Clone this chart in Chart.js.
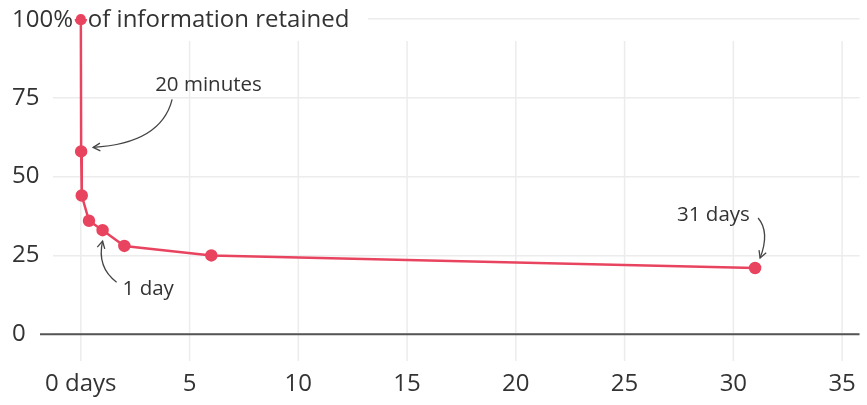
<!DOCTYPE html>
<html>
<head>
<meta charset="utf-8">
<script src="https://cdn.jsdelivr.net/npm/chart.js@4"></script>
<style>
  html, body { margin: 0; padding: 0; background: #fff; }
  #wrap { width: 867px; height: 405px; }
</style>
</head>
<body>
<div id="wrap"><canvas id="curve"></canvas></div>
<script>
// forgetting curve data (days since learning, % retained)
const days = [0, 0.014, 0.042, 0.375, 1, 2, 6, 31];
const retained = [100, 58, 44, 36, 33, 28, 25, 21];
const xTicks = [0, 5, 10, 15, 20, 25, 30, 35];
const yTicks = [0, 25, 50, 75, 100];

const FONT = '"Open Sans", Lato, sans-serif';
const INK = '#333';
const RED = '#e9445f';

// annotation labels: which point they refer to
const notes = [
  { text: '20 minutes', idx: 1 },
  { text: '1 day', idx: 4 },
  { text: '31 days', idx: 7 }
];

function arrow(ctx, x0, y0, cx, cy, x1, y1) {
  ctx.beginPath();
  ctx.moveTo(x0, y0);
  ctx.quadraticCurveTo(cx, cy, x1, y1);
  ctx.stroke();
  const a = Math.atan2(y1 - cy, x1 - cx);
  ctx.beginPath();
  ctx.moveTo(x1 - 8 * Math.cos(a - 0.5), y1 - 8 * Math.sin(a - 0.5));
  ctx.lineTo(x1, y1);
  ctx.lineTo(x1 - 8 * Math.cos(a + 0.5), y1 - 8 * Math.sin(a + 0.5));
  ctx.stroke();
}

const extras = {
  id: 'extras',
  beforeDatasetsDraw(chart) {
    const { ctx, scales: { x, y }, chartArea } = chart;
    ctx.save();
    // vertical grid lines
    ctx.strokeStyle = '#ececec';
    ctx.lineWidth = 1.5;
    xTicks.forEach(t => {
      const px = x.getPixelForValue(t);
      ctx.beginPath();
      ctx.moveTo(px, y.getPixelForValue(93));
      ctx.lineTo(px, chartArea.bottom);
      ctx.stroke();
    });
    // baseline at 0
    ctx.strokeStyle = '#555';
    ctx.lineWidth = 2;
    const by = y.getPixelForValue(0);
    ctx.beginPath();
    ctx.moveTo(chartArea.left - 13, by);
    ctx.lineTo(chartArea.right, by);
    ctx.stroke();
    // white strip behind the top label and title
    const ty = y.getPixelForValue(100);
    ctx.fillStyle = '#fff';
    ctx.fillRect(0, ty - 15, x.getPixelForValue(0) + 287, 30);
    ctx.restore();
  },
  afterDatasetsDraw(chart) {
    const { ctx, scales: { x, y } } = chart;
    ctx.save();
    ctx.font = '24px ' + FONT;
    ctx.fillStyle = INK;
    ctx.textBaseline = 'middle';
    const ty = y.getPixelForValue(100);
    ctx.fillText('100%', 12, ty + 1);
    ctx.fillText('of information retained', x.getPixelForValue(0) + 7, ty + 1);

    ctx.font = '20.5px ' + FONT;
    ctx.strokeStyle = '#444';
    ctx.lineWidth = 1.3;
    const pt = i => [x.getPixelForValue(days[i]), y.getPixelForValue(retained[i])];

    let [px, py] = pt(notes[0].idx);
    ctx.fillText(notes[0].text, px + 74, py - 66);
    arrow(ctx, px + 91, py - 52, px + 80, py - 8, px + 12, py - 4);

    [px, py] = pt(notes[1].idx);
    ctx.fillText(notes[1].text, px + 20, py + 59);
    arrow(ctx, px + 14, py + 52, px - 6, py + 37, px, py + 11);

    [px, py] = pt(notes[2].idx);
    ctx.fillText(notes[2].text, px - 78, py - 53);
    arrow(ctx, px + 3, py - 50, px + 15, py - 36, px + 5, py - 10);

    // redraw the first point above the title strip
    const [qx, qy] = pt(0);
    ctx.fillStyle = RED;
    ctx.beginPath();
    ctx.arc(qx, qy, 5, 0, Math.PI * 2);
    ctx.fill();
    ctx.restore();
  }
};

new Chart(document.getElementById('curve'), {
  type: 'scatter',
  data: {
    datasets: [{
      data: days.map((d, i) => ({ x: d, y: retained[i] })),
      showLine: true,
      borderColor: RED,
      backgroundColor: RED,
      borderWidth: 2.5,
      pointRadius: 5,
      pointHoverRadius: 5
    }]
  },
  options: {
    responsive: true,
    maintainAspectRatio: false,
    animation: false,
    layout: { padding: { top: 19, right: 0, bottom: 0, left: 12 } },
    plugins: { legend: { display: false }, tooltip: { enabled: false } },
    scales: {
      x: {
        type: 'linear',
        min: -1.28,
        max: 35.8,
        afterBuildTicks: s => { s.ticks = xTicks.map(v => ({ value: v })); },
        afterFit: s => { s.height = 44; },
        grid: { display: false },
        border: { display: false },
        ticks: {
          color: INK,
          font: { family: FONT, size: 24 },
          padding: 1,
          maxRotation: 0,
          callback: v => (v === 0 ? '0 days' : v)
        }
      },
      y: {
        min: -8.5,
        max: 100,
        afterBuildTicks: s => { s.ticks = yTicks.map(v => ({ value: v })); },
        afterFit: s => { s.width = 41; },
        grid: { color: '#ececec', lineWidth: 1.5, drawTicks: false },
        border: { display: false },
        ticks: {
          color: INK,
          font: { family: FONT, size: 24 },
          crossAlign: 'far',
          padding: 0,
          callback: v => (v === 100 ? '' : v)
        }
      }
    }
  },
  plugins: [extras]
});
</script>
</body>
</html>
